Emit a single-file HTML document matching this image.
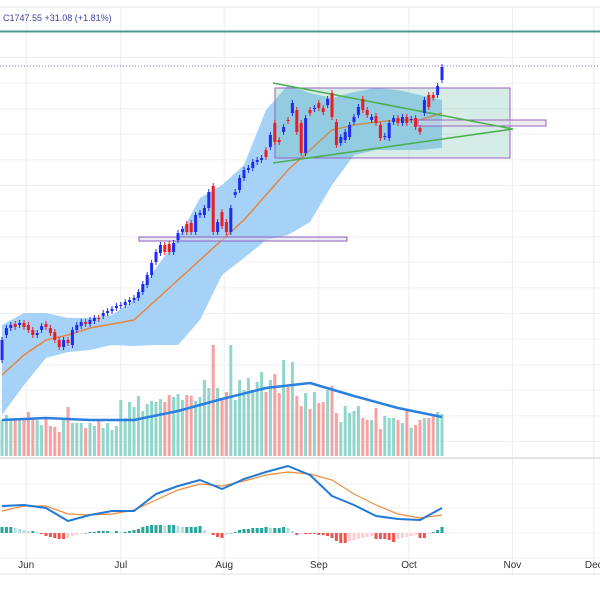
<!DOCTYPE html>
<html><head><meta charset="utf-8">
<style>
html,body{margin:0;padding:0;background:#fff;}
svg{display:block;font-family:"Liberation Sans",sans-serif;}
</style></head>
<body>
<svg id="chart" width="600" height="600" viewBox="0 0 600 600">
  <rect x="0" y="0" width="600" height="600" fill="#fff"/>
  <g id="grid"></g>
  <line x1="0" y1="7" x2="600" y2="7" stroke="#e6e6e6"/>
  <text x="3" y="21" font-size="9" fill="#3b3f9a">C1747.55  +31.08 (+1.81%)</text>
  <line x1="0" y1="31.5" x2="600" y2="31.5" stroke="#4e9a8e" stroke-width="2"/>
  <line x1="0" y1="66" x2="600" y2="66" stroke="#7d6fd0" stroke-width="1" stroke-dasharray="1,2"/>
  <g id="band"></g>
  <g id="drawings">
    <rect x="275" y="88" width="235" height="70" fill="rgba(90,185,160,0.25)" stroke="#9b62c0" stroke-width="1"/>
    <rect x="418" y="120" width="128" height="6" fill="rgba(220,220,230,0.5)" stroke="#9b62c0" stroke-width="1"/>
    <rect x="139" y="237" width="208" height="4" fill="rgba(220,220,230,0.5)" stroke="#8a60c0" stroke-width="1"/>
    <line x1="273" y1="83" x2="513" y2="129" stroke="#4caf50" stroke-width="1.5"/>
    <line x1="273" y1="163" x2="513" y2="129" stroke="#4caf50" stroke-width="1.5"/>
  </g>
  <g id="candles"></g>
  <g id="volume"></g>
  <g id="macd"></g>
  <line x1="0" y1="574" x2="600" y2="574" stroke="#e0e0e0"/>
  <g id="xaxis"></g>
</svg>
<script>
const opens = [40,65,72,76,75,77,75,70,65,70,76,72,68,60,53,60,55,70,74,78,76,79,82,84,87,89,92,94,95,98,100,102,108,115,125,138,147,155,156,148,160,168,176,177,168,185,185,192,214,168,188,178,168,205,210,222,230,232,238,240,250,253,277,260,268,280,287,290,277,247,290,291,297,292,295,307,278,257,260,263,278,285,301,290,280,284,275,263,262,278,282,277,283,280,282,272,287,305,305,305,320];
const closes = [60,72,75,73,77,73,70,65,67,74,73,67,60,53,60,57,70,75,78,76,80,82,81,87,89,91,94,95,98,100,102,108,116,125,137,148,155,148,148,157,167,171,168,168,185,187,192,208,168,178,174,168,192,208,222,230,232,238,240,242,243,265,258,258,273,279,297,268,247,282,287,292,292,288,301,283,255,263,268,275,283,293,290,285,283,277,262,264,277,282,277,283,277,281,273,268,300,293,302,314,333];
const bandUpper = [75,87,87,82,82,85,100,132,162,202,215,235,290,315,307,302,308,312,310,305,300];
const bandLower = [-15,15,42,48,50,55,54,55,55,80,125,142,160,165,178,215,245,250,250,250,252];
const bandMid = [25,45,60,65,72,76,80,100,120,140,160,180,205,230,250,270,275,278,280,280,287];
const volumes = [36,41,38,38,38,38,44,38,36,31,38,30,29,24,38,49,33,33,33,28,33,30,36,28,33,26,30,56,38,54,49,60,45,52,55,54,57,54,61,59,62,56,61,60,55,59,76,68,111,68,58,64,111,56,76,66,78,66,74,84,64,76,82,63,96,69,94,60,50,63,47,64,53,54,66,70,43,34,50,43,45,50,38,36,36,48,27,40,38,38,36,33,46,28,31,36,38,38,42,44,42];
const volMA = [36,38,36,36,45,57,68,73,60,48,39];
const macdLine = [27,28,25,12,18,22,22,39,47,53,44,54,61,67,58,37,28,17,14,13,25];
const signalLine = [22,27,27,19,18,19,23,33,43,49,47,52,58,61,59,53,39,28,19,15,18];
const histogram = [6,6,6,5,4,3,2,2,1,-1,-3,-4,-5,-6,-6,-5,-3,-2,-1,0,1,1,2,2,2,1,2,1,1,2,3,4,6,7,8,8,8,7,8,8,7,6,6,6,6,7,3,0,-2,-4,-5,-2,0,1,3,4,4,5,5,5,6,5,5,5,6,5,2,-2,-1,-1,-1,-1,-2,-2,-3,-5,-8,-10,-10,-8,-7,-6,-5,-4,-3,-6,-6,-6,-7,-9,-6,-5,-4,-3,-2,-5,-5,-1,1,3,6];
const monthLabels = ["Jun","Jul","Aug","Sep","Oct","Nov","Dec"];
const monthBars = [5.5,27,50.5,72,92.5,116,134.5];

const NS = "http://www.w3.org/2000/svg";
const xBar = i => 2 + i * 4.4;
const yP = p => 400 - p;
const yV = v => 456 - v;
const yM = m => 533 - m;
function mk(tag, attrs, parent){const e=document.createElementNS(NS,tag);for(const k in attrs)e.setAttribute(k,attrs[k]);parent.appendChild(e);return e;}

// grid
const grid = document.getElementById('grid');
monthBars.forEach(b=>{
  const l = mk('line',{x1:xBar(b),x2:xBar(b),y1:8,y2:574,stroke:'#ececec'},grid);
  
  
});
for(let y=57.5;y<450;y+=25.6){
  const l = mk('line',{x1:0,x2:600,y1:y,y2:y,stroke:'#f0f0f0'},grid);
  
  
}
[484,508,533,558].forEach(y=>{
  const l = mk('line',{x1:0,x2:600,y1:y,y2:y,stroke:'#f0f0f0'},grid);
  
  
});
const sep = mk('line',{x1:0,x2:600,y1:458,y2:458,stroke:'#e4e4e4',"stroke-width":2},grid);



// band
const band = document.getElementById('band');
let d='';
bandUpper.forEach((v,k)=>{d+=(k?'L':'M')+xBar(k*5)+','+yP(v);});
for(let k=bandLower.length-1;k>=0;k--){d+='L'+xBar(k*5)+','+yP(bandLower[k]);}
const bf = mk('path',{d:d+'Z',fill:'#a6d2f7'},band);


const mid = mk('polyline',{points:bandMid.map((v,k)=>xBar(k*5)+','+yP(v)).join(' '),fill:'none',stroke:'#e8843c','stroke-width':1.5},band);



// candles
const cg = document.getElementById('candles');
const n = Math.min(opens.length, closes.length);
for(let i=0;i<n;i++){
  const up = closes[i] >= opens[i];
  const col = up ? '#1f2cf0' : '#ec1c24';
  const top = Math.min(yP(opens[i]), yP(closes[i]));
  const h = Math.max(1, Math.abs(yP(opens[i]) - yP(closes[i])));
  const g = mk('g',{},cg);
  
  
  mk('line',{x1:xBar(i),x2:xBar(i),y1:top-3,y2:top+h+3,stroke:col,'stroke-width':1},g);
  mk('rect',{x:xBar(i)-1.5,y:top,width:3,height:h,fill:col},g);
}

// volume
const vg = document.getElementById('volume');
for(let i=0;i<volumes.length;i++){
  const up = i<n ? closes[i] >= opens[i] : true;
  const r = mk('rect',{x:xBar(i)-1.5,y:yV(volumes[i]),width:3,height:volumes[i],fill: up ? '#92d5cb' : '#f7a1a1'},vg);
  
  
}
const vma = mk('polyline',{points:volMA.map((v,k)=>xBar(k*10)+','+yV(v)).join(' '),fill:'none',stroke:'#2a80e0','stroke-width':2.5,'stroke-linejoin':'round'},vg);



// macd
const mg = document.getElementById('macd');
for(let i=0;i<histogram.length;i++){
  const h = histogram[i], prev = i ? histogram[i-1] : h;
  let col;
  if(h>=0) col = h>=prev ? '#26a69a' : '#b2dfdb';
  else col = h<=prev ? '#ef5350' : '#ffcdd2';
  const r = mk('rect',{x:xBar(i)-1.5,y:Math.min(yM(h),yM(0)),width:3,height:Math.max(0.5,Math.abs(h)),fill:col},mg);
  
  
}
const sl = mk('polyline',{points:signalLine.map((v,k)=>xBar(k*5)+','+yM(v)).join(' '),fill:'none',stroke:'#f08a3c','stroke-width':1.2},mg);


const ml = mk('polyline',{points:macdLine.map((v,k)=>xBar(k*5)+','+yM(v)).join(' '),fill:'none',stroke:'#2179d8','stroke-width':2,'stroke-linejoin':'round'},mg);



// x axis
const xa = document.getElementById('xaxis');
monthLabels.forEach((m,k)=>{
  const t = mk('text',{x:xBar(monthBars[k]),y:568,'font-size':10,fill:'#333','text-anchor':'middle'},xa);
  t.textContent = m;
  
  
});
</script>
</body></html>
